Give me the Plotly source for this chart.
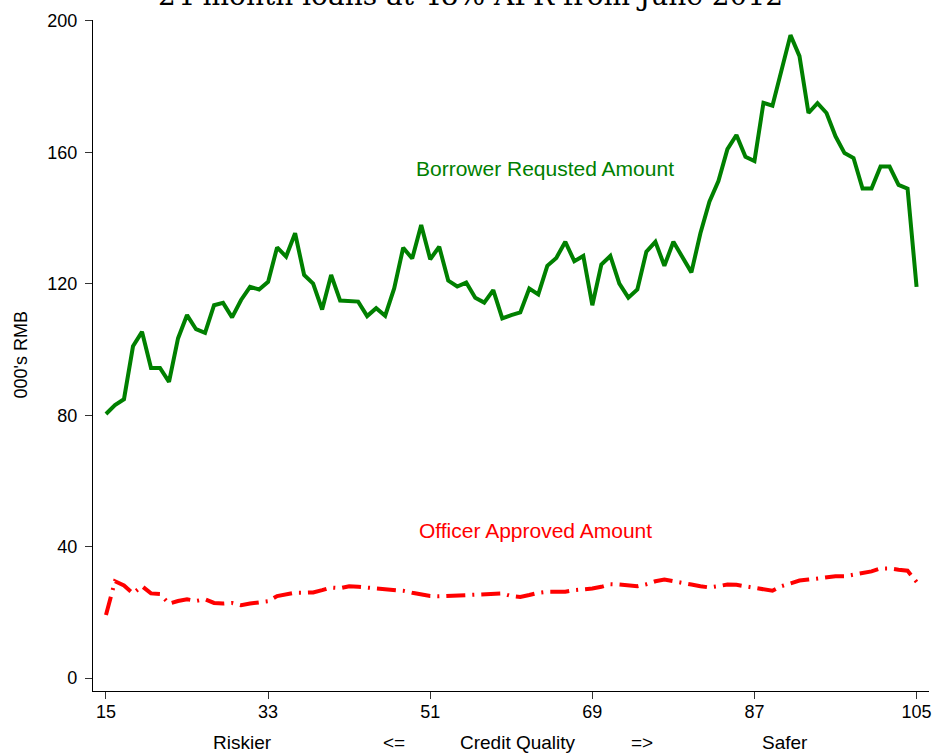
import plotly.graph_objects as go

# Credit-quality index (riskier -> safer)
credit_score = list(range(15, 106))

# Average requested loan size by borrowers, thousands of RMB
requested = [
    80.4, 83.1, 84.9, 101.0, 105.4, 94.4, 94.4, 90.2, 103.4, 110.5,
    106.2, 105.1, 113.5, 114.2, 109.8, 115.1, 119.1, 118.3, 120.6, 131.1,
    128.3, 135.4, 122.7, 120.1, 112.2, 122.7, 114.9, 114.6, 114.6, 110.2,
    112.6, 110.3, 118.6, 131.0, 127.7, 137.9, 127.5, 131.3, 121.0, 119.2,
    120.4, 115.8, 114.3, 118.1, 109.5, 110.5, 111.3, 118.6, 116.8, 125.5,
    127.9, 132.8, 126.9, 128.5, 113.5, 125.9, 128.5, 120.1, 115.8, 118.3,
    129.8, 132.8, 125.5, 132.8, 128.0, 123.5, 135.4, 145.0, 151.3, 161.0,
    165.3, 158.7, 157.4, 175.1, 174.2, 184.6, 195.7, 189.3, 172.0, 175.0,
    172.0, 164.9, 159.8, 158.3, 149.0, 149.0, 155.7, 155.7, 150.1, 149.0,
    119.1,
]

# Average amount approved by loan officers, thousands of RMB
approved = [
    19.2, 29.5, 28.2, 25.8, 28.0, 25.8, 25.6, 22.7, 23.5, 24.0,
    23.5, 24.0, 22.9, 22.7, 22.9, 22.2, 22.7, 23.0, 23.4, 25.0,
    25.5, 26.0, 26.0, 26.1, 26.8, 27.6, 27.4, 28.0, 27.8, 27.6,
    27.5, 27.2, 27.0, 26.6, 26.0, 25.5, 25.0, 24.9, 25.0, 25.1,
    25.3, 25.3, 25.5, 25.6, 25.8, 25.0, 24.7, 25.3, 26.0, 26.3,
    26.3, 26.3, 26.8, 27.0, 27.3, 27.8, 28.6, 28.5, 28.2, 28.0,
    28.6, 29.5, 30.0, 29.6, 29.0, 28.5, 28.0, 27.6, 28.0, 28.5,
    28.4, 28.0, 27.5, 27.0, 26.6, 28.0, 29.0, 29.7, 30.0, 30.4,
    30.7, 31.0, 31.0, 31.5, 31.8, 32.5, 33.4, 33.4, 33.0, 32.7,
    29.3,
]

x_ticks = [15, 33, 51, 69, 87, 105]
y_ticks = [0, 40, 80, 120, 160, 200]
x_axis_words = ["Riskier", "<=", "Credit Quality", "=>", "Safer"]
x_axis_word_pos = [0.179, 0.36, 0.508, 0.657, 0.828]

sans = "Liberation Sans, Arial, sans-serif"

fig = go.Figure()
fig.add_trace(go.Scatter(
    x=credit_score, y=requested, mode="lines",
    line=dict(color="#008000", width=4),
    name="Borrower Requsted Amount", showlegend=False,
))
fig.add_trace(go.Scatter(
    x=credit_score, y=approved, mode="lines",
    line=dict(color="#ff0000", width=4, dash="19px,7px,2px,7px"),
    name="Officer Approved Amount", showlegend=False,
))

fig.add_annotation(x=63.7, y=155, xref="x", yref="y", showarrow=False,
                   text="Borrower Requsted Amount",
                   font=dict(family=sans, size=21, color="#008000"))
fig.add_annotation(x=62.7, y=45, xref="x", yref="y", showarrow=False,
                   text="Officer Approved Amount",
                   font=dict(family=sans, size=21, color="#ff0000"))

# Title sits partly above the top edge of the page
fig.add_annotation(x=0.452, y=1.0, xref="paper", yref="paper",
                   xanchor="center", yanchor="bottom", yshift=6,
                   showarrow=False,
                   text="24 month loans at 48% APR from June 2012",
                   font=dict(family="DejaVu Serif, serif", size=28, color="black"))

# Y-axis title
fig.add_annotation(x=0, y=0.5, xref="paper", yref="paper",
                   xanchor="center", yanchor="middle", xshift=-73,
                   textangle=-90, showarrow=False, text="000's RMB",
                   font=dict(family=sans, size=18, color="black"))

for word, pos in zip(x_axis_words, x_axis_word_pos):
    fig.add_annotation(x=pos, y=0, xref="paper", yref="paper",
                       xanchor="center", yanchor="middle", yshift=-51,
                       showarrow=False, text=word,
                       font=dict(family=sans, size=19, color="black"))

axis_common = dict(
    showline=True, linecolor="black", linewidth=1.3,
    ticks="outside", ticklen=7, tickwidth=1.3, tickcolor="#333333",
    showgrid=False, zeroline=False,
    tickfont=dict(family=sans, size=18, color="black"),
)

fig.update_layout(
    width=937, height=753,
    margin=dict(l=93, r=5, t=20, b=62),
    plot_bgcolor="white", paper_bgcolor="white",
    xaxis=dict(range=[13.56, 106.38], tickvals=x_ticks, ticklabelstandoff=-3,
               **axis_common),
    yaxis=dict(range=[-3.9, 200.3], tickvals=y_ticks, ticklabelstandoff=4,
               **axis_common),
)

fig.write_html("out.html")
